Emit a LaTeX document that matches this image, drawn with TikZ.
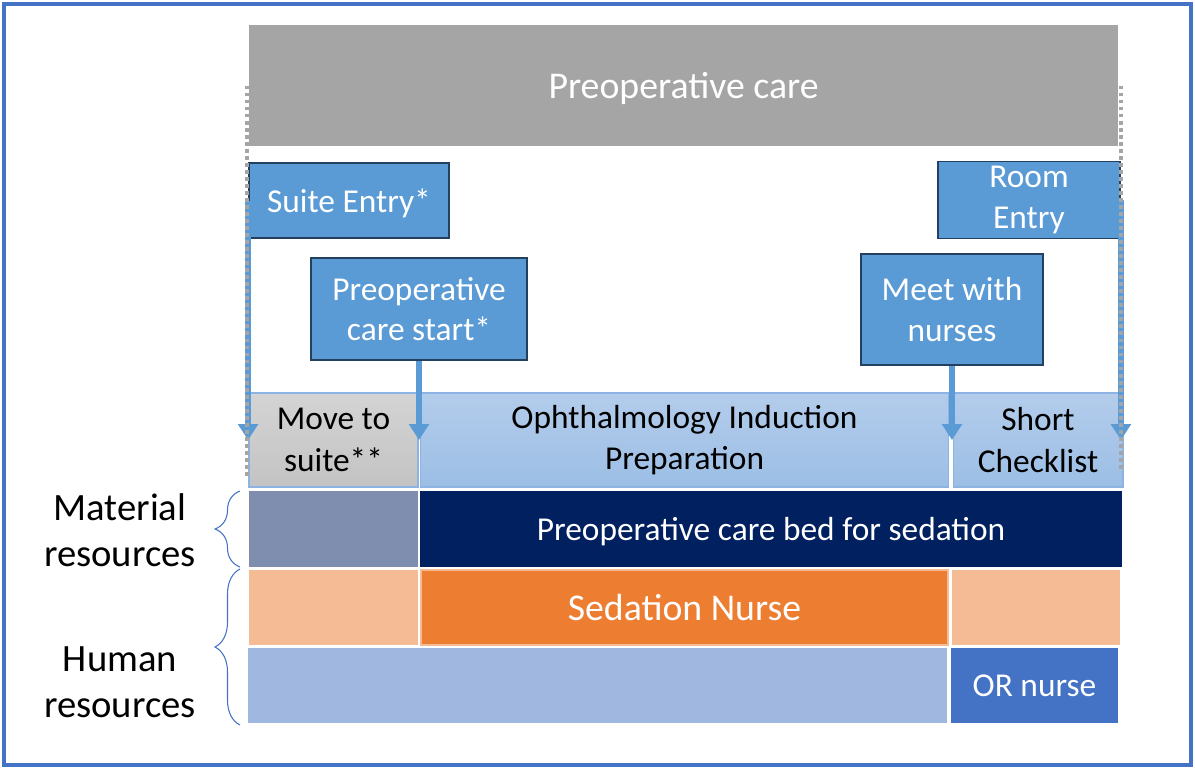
\documentclass[tikz,border=0pt]{standalone}
\usepackage{fontspec}
\setmainfont{Carlito}
\usepackage{xcolor}
\usepackage{tikz}
\usetikzlibrary{positioning}
\usetikzlibrary{arrows.meta}
\usetikzlibrary{decorations.pathreplacing}

\definecolor{frameblue}{HTML}{4472C4}
\definecolor{titlegrey}{HTML}{A5A5A5}
\definecolor{eventblue}{HTML}{5B9BD5}
\definecolor{eventedge}{HTML}{23405F}
\definecolor{slate}{HTML}{7F8EAE}
\definecolor{bednavy}{HTML}{002060}
\definecolor{peach}{HTML}{F4BB95}
\definecolor{sedorange}{HTML}{ED7D31}
\definecolor{paleblue}{HTML}{A0B7E0}
\definecolor{phaseedge}{HTML}{8DB3E2}
\definecolor{movetop}{HTML}{D4D4D4}
\definecolor{movebot}{HTML}{C3C3C3}
\definecolor{phasetop}{HTML}{B3CCEB}
\definecolor{phasebot}{HTML}{9CBEE5}

\tikzset{
  event/.style={draw=eventedge, line width=1.1pt, fill=eventblue, text=white,
    align=center, inner sep=2pt, font=\fontsize{19}{23}\selectfont},
  phase/.style 2 args={draw=phaseedge, line width=0.6pt, top color=#1, bottom color=#2,
    align=center, inner sep=2pt, font=\fontsize{19}{23.5}\selectfont},
  cell/.style={fill=#1, inner sep=2pt, text=white, font=\fontsize{19}{23}\selectfont},
  timearrow/.style={eventblue, line width=3.2pt, -{Triangle[width=11pt,length=9pt]}},
  limitline/.style={titlegrey, line width=2.2pt, dash pattern=on 2.2pt off 1.8pt},
  brc/.style={draw=frameblue, line width=0.6pt, decorate,
    decoration={brace, amplitude=0.5cm}},
  lbl/.style={align=center, font=\fontsize{22}{26}\selectfont}
}

\begin{document}
\begin{tikzpicture}[x=0.02cm, y=-0.02cm]
 \useasboundingbox (0,0) rectangle (1195,769);
 \draw[frameblue, line width=2.6pt] (4,4) rectangle (1191,765);

 % title bar
 \node[fill=titlegrey, text=white, minimum width=17.38cm, minimum height=2.42cm, text depth=0pt,
   font=\fontsize{21.5}{26}\selectfont] (title) at (683.5,85.5) {Preoperative care};

 % phases
 \node[phase={movetop}{movebot}, minimum width=3.38cm, minimum height=1.88cm] (move) at (333.5,440) {Move to\\suite**};
 \node[phase={phasetop}{phasebot}, minimum width=10.58cm, minimum height=1.88cm] (ophth) at (684.5,440) {Ophthalmology Induction\\Preparation};
 \node[phase={phasetop}{phasebot}, minimum width=3.4cm, minimum height=1.88cm] (short) at (1038,440) {Short\\Checklist};

 % resources
 \foreach \n/\c/\r/\w/\col in {mat1/333.5/529/3.38/slate, hum1a/333.5/607.5/3.38/peach, hum1b/1036/607.5/3.36/peach}
   \node[cell=\col, minimum width=\w cm, minimum height=1.51cm] (\n) at (\c,\r) {};
 \node[cell=paleblue, minimum width=13.98cm, minimum height=1.5cm] (hum2a) at (597.5,685.5) {};
 \node[cell=bednavy, minimum width=14.04cm, minimum height=1.52cm, text depth=0pt] (bed) at (771,529) {Preoperative care bed for sedation};
 \node[cell=sedorange, draw=peach, line width=0.8pt, minimum width=10.54cm, minimum height=1.5cm,
   font=\fontsize{21.5}{26}\selectfont] (sedn) at (684.5,607.5) {Sedation Nurse};
 \node[cell=frameblue, minimum width=3.34cm, minimum height=1.5cm] (ornurse) at (1034.5,685.5) {OR nurse};

 % events
 \node[event, minimum width=4.0cm, minimum height=1.5cm, text depth=0pt] (suite) at (349,200.5) {Suite Entry*};
 \node[event, minimum width=4.32cm, minimum height=2.04cm] (start) at (419,309) {Preoperative\\care start*};
 \node[event, minimum width=3.64cm, minimum height=2.22cm] (meet) at (952,309.5) {Meet with\\nurses};
 \node[event, minimum width=3.64cm, minimum height=1.54cm] (room) at (1029,200) {Room\\Entry};

 % arrows
 \draw[timearrow] (suite.west) -- (suite.west |- move.center);
 \draw[timearrow] (start.south) -- (start.south |- ophth.center);
 \draw[timearrow] (meet.south) -- (meet.south |- ophth.center);
 \draw[timearrow] (room.east) -- (room.east |- short.center);

 % dotted limits
 \coordinate (lend) at (247,476);
 \coordinate (rend) at (1121,470);
 \draw[limitline] (title.west -| lend) -- (lend);
 \draw[limitline] (title.east -| rend) -- (rend);

 % braces
 \coordinate (m1) at (240,567);
 \coordinate (m2) at (240,491);
 \coordinate (h1) at (240,725);
 \coordinate (h2) at (240,569);
 \draw[brc] (m1) -- (m2);
 \draw[brc] (h1) -- (h2);
 \node[lbl] (matlbl) at (120,530) {Material\\resources};
 \node[lbl] (humlbl) at (120,682) {Human\\resources};
\end{tikzpicture}
\end{document}
